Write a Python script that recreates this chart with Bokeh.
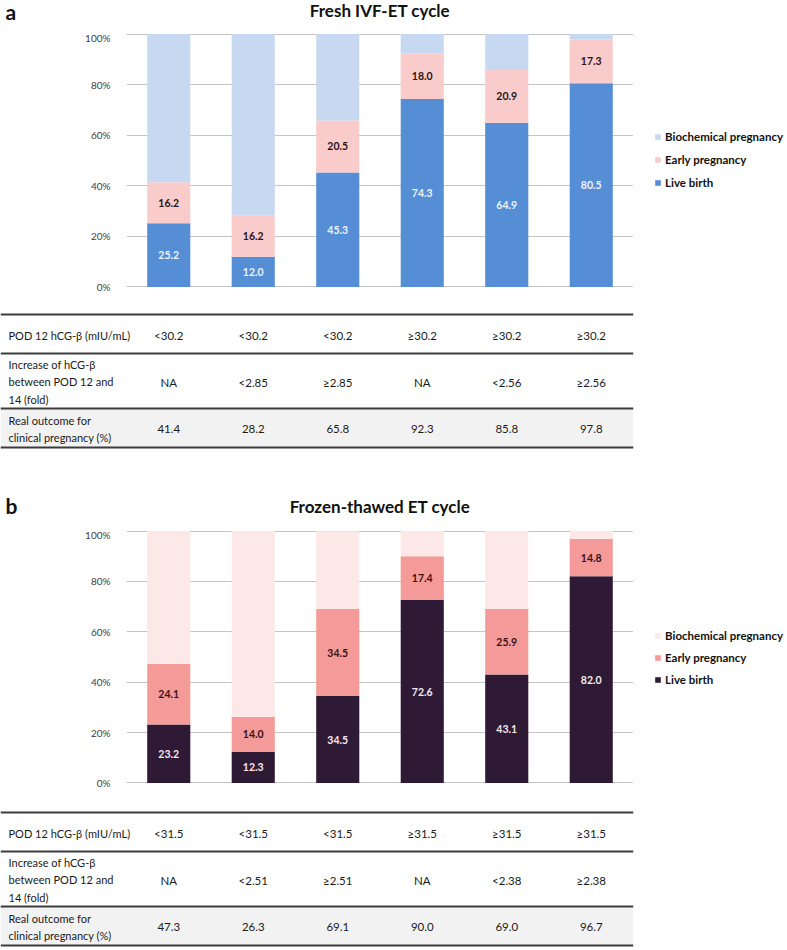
from bokeh.plotting import figure
from bokeh.models import (FactorRange, Range1d, ColumnDataSource, Legend, LegendItem,
                          BoxAnnotation, PrintfTickFormatter, FixedTicker)
from bokeh.layouts import column, row
from bokeh.embed import file_html
from bokeh.resources import INLINE
from bokeh.core.properties import value

# ---------------- data ----------------
series_names = ["Live birth", "Early pregnancy", "Biochemical pregnancy"]
y_ticks = [0, 20, 40, 60, 80, 100]
row_labels = ["POD 12 hCG-β (mIU/mL)",
              "Increase of hCG-β\nbetween POD 12 and\n14 (fold)",
              "Real outcome for\nclinical pregnancy (%)"]

fresh_letter = "a"
fresh_title = "Fresh IVF-ET cycle"
fresh_pod = ["<30.2", "<30.2", "<30.2", "≥30.2", "≥30.2", "≥30.2"]
fresh_inc = ["NA", "<2.85", "≥2.85", "NA", "<2.56", "≥2.56"]
fresh_live = [25.2, 12.0, 45.3, 74.3, 64.9, 80.5]
fresh_early = [16.2, 16.2, 20.5, 18.0, 20.9, 17.3]
fresh_bio = [58.6, 71.8, 34.2, 7.7, 14.2, 2.2]
fresh_real = [41.4, 28.2, 65.8, 92.3, 85.8, 97.8]

frozen_letter = "b"
frozen_title = "Frozen-thawed ET cycle"
frozen_pod = ["<31.5", "<31.5", "<31.5", "≥31.5", "≥31.5", "≥31.5"]
frozen_inc = ["NA", "<2.51", "≥2.51", "NA", "<2.38", "≥2.38"]
frozen_live = [23.2, 12.3, 34.5, 72.6, 43.1, 82.0]
frozen_early = [24.1, 14.0, 34.5, 17.4, 25.9, 14.8]
frozen_bio = [52.7, 73.7, 30.9, 10.0, 31.0, 3.3]
frozen_real = [47.3, 26.3, 69.1, 90.0, 69.0, 96.7]

# ---------------- styling / layout ----------------
FONT = "Lato"
W = 787
FRAME_L = 126
FRAME_R = 633
NCOL = 6
COL_W = (FRAME_R - FRAME_L) / NCOL
ROW_STEPS = [0, 39, 94, 133]

fresh_colors = ["#558ed5", "#f9cbcb", "#c6d9f1"]
fresh_text = ["#eef3fb", "#2a1414"]
frozen_colors = ["#2f1a36", "#f49a99", "#fde8e8"]
frozen_text = ["#f6e8f0", "#3a1212"]


def base(width, height, x_range, y_range, left=0, right=0, top=0, bottom=0, axes=False):
    kw = dict(width=width, height=height, x_range=x_range, y_range=y_range,
              output_backend="svg", toolbar_location=None, tools="",
              min_border_left=left, min_border_right=right,
              min_border_top=top, min_border_bottom=bottom, frame_align=False)
    if not axes:
        kw.update(x_axis_location=None, y_axis_location=None)
    p = figure(**kw)
    p.outline_line_color = None
    p.background_fill_alpha = 0
    p.border_fill_alpha = 0
    p.xgrid.grid_line_color = None
    p.ygrid.grid_line_color = None
    return p


def make_header(letter, title, height, letter_y, title_y):
    h = base(W, height, Range1d(0, W), Range1d(height, 0))
    h.text(x=[5], y=[letter_y], text=[letter], text_align="left",
           text_baseline="middle", text_font=value(FONT), text_font_size="21px",
           text_font_style="bold", text_color="#111111")
    h.text(x=[(FRAME_L + FRAME_R) / 2], y=[title_y], text=[title], text_align="center",
           text_baseline="middle", text_font=value(FONT), text_font_size="17px",
           text_font_style="bold", text_color="#111111")
    return h


def make_chart(pods, incs, live, early, bio, colors, tcolors, height, top_b, frame_h,
               leg_y, leg_sp):
    cats = [f"{a} | {b}" for a, b in zip(pods, incs)]
    p = base(FRAME_R, height, FactorRange(*cats), Range1d(-0.2, 100.2), left=FRAME_L,
             right=0, top=top_b, bottom=height - top_b - frame_h, axes=True)
    p.xaxis.visible = False
    p.ygrid.grid_line_color = "#c4c4c4"
    p.ygrid.grid_line_width = 1
    p.yaxis.ticker = FixedTicker(ticks=y_ticks)
    p.yaxis.formatter = PrintfTickFormatter(format="%d%%")
    p.yaxis.axis_line_color = None
    p.yaxis.major_tick_line_color = None
    p.yaxis.minor_tick_line_color = None
    p.yaxis.major_label_text_font = FONT
    p.yaxis.major_label_text_font_size = "10px"
    p.yaxis.major_label_text_color = "#404040"
    p.yaxis.major_label_standoff = 10

    live_mid = [v / 2 for v in live]
    early_mid = [l + e / 2 for l, e in zip(live, early)]
    src = ColumnDataSource(dict(cat=cats, live=live, early=early, bio=bio,
                                live_mid=live_mid, early_mid=early_mid,
                                live_lab=[f"{v:.1f}" for v in live],
                                early_lab=[f"{v:.1f}" for v in early]))
    p.vbar_stack(["live", "early", "bio"], x="cat", width=0.51, source=src,
                 fill_color=colors, line_color=None)
    p.text(x="cat", y="live_mid", text="live_lab", source=src, text_align="center",
           text_baseline="middle", text_font=value(FONT), text_font_style="bold",
           text_font_size="10.5px", text_color=tcolors[0])
    p.text(x="cat", y="early_mid", text="early_lab", source=src, text_align="center",
           text_baseline="middle", text_font=value(FONT), text_font_style="bold",
           text_font_size="10.5px", text_color=tcolors[1])

    # legend panel to the right of the chart (proxy renderers kept off-view)
    lg = base(W - FRAME_R, height, Range1d(0, 1), Range1d(0, 1))
    proxy = ColumnDataSource(dict(x=[5], top=[1]))
    rends = {}
    for i in (2, 1, 0):
        rends[i] = lg.vbar(x="x", top="top", width=0.5, source=proxy,
                           fill_color=colors[i], line_color=None)
    items = [LegendItem(label=series_names[i], renderers=[rends[i]]) for i in (2, 1, 0)]
    leg = Legend(items=items, location=(21, leg_y), glyph_width=7, glyph_height=7,
                 label_text_font=FONT, label_text_font_size="11.5px",
                 label_text_font_style="bold", label_text_color="#111111",
                 label_standoff=4, spacing=leg_sp, padding=0, margin=0, label_height=14,
                 border_line_color=None, background_fill_alpha=0)
    lg.add_layout(leg)
    return row(p, lg, spacing=0)


def make_table(pods, incs, reals, height, top_off):
    t = base(W, height, Range1d(-FRAME_L / COL_W, NCOL), Range1d(height, 0),
             right=W - FRAME_R)
    edges = [top_off + s for s in ROW_STEPS]
    t.add_layout(BoxAnnotation(top=edges[2], bottom=edges[3], fill_color="#f2f2f2",
                               fill_alpha=1, line_color=None, level="underlay"))
    t.hspan(y=edges, line_color="#3c3c3c", line_width=2)

    mids = [(edges[i] + edges[i + 1]) / 2 + 1 for i in range(3)]
    t.text(x=[-FRAME_L / COL_W + 8 / COL_W] * 3, y=mids, text=row_labels,
           text_align="left", text_baseline="middle", text_font=value(FONT),
           text_font_size="11px", text_color="#1a1a1a", text_line_height=1.36)
    xs = [i + 0.5 for i in range(NCOL)]
    rows = [pods, incs, [f"{v:.1f}" for v in reals]]
    for r, vals in enumerate(rows):
        t.text(x=xs, y=[mids[r]] * NCOL, text=vals, text_align="center",
               text_baseline="middle", text_font=value(FONT), text_font_size="11.5px",
               text_color="#1a1a1a")
    return t


ha = make_header(fresh_letter, fresh_title, 31, 11, 9.5)
pa = make_chart(fresh_pod, fresh_inc, fresh_live, fresh_early, fresh_bio,
                fresh_colors, fresh_text, 269, 2, 254, 111, 9)
ta = make_table(fresh_pod, fresh_inc, fresh_real, 152, 14)
hb = make_header(frozen_letter, frozen_title, 76, 53, 54)
pb = make_chart(frozen_pod, frozen_inc, frozen_live, frozen_early, frozen_bio,
                frozen_colors, frozen_text, 268, 2, 253, 110, 8)
tb = make_table(frozen_pod, frozen_inc, frozen_real, 152, 16)

layout = column(ha, pa, ta, hb, pb, tb, spacing=0)
open("out.html", "w").write(file_html(layout, INLINE))
